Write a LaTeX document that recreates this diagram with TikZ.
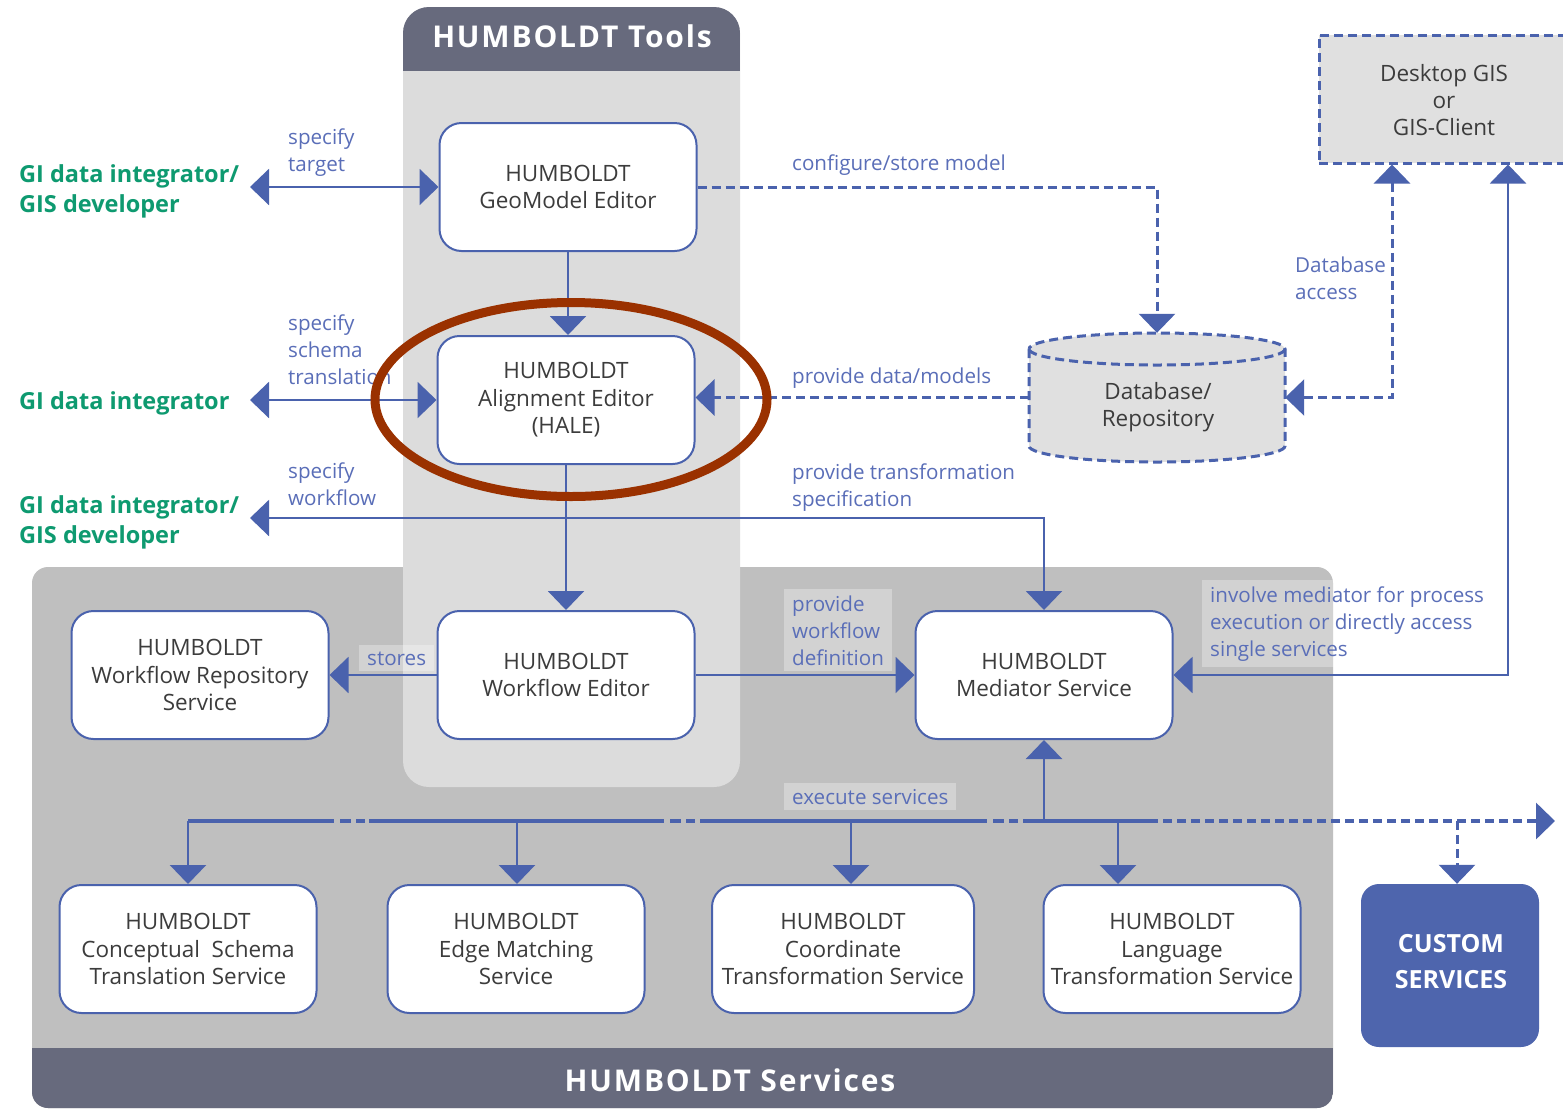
\documentclass[tikz,border=0pt]{standalone}
\usepackage{fontspec}
\setmainfont{Open Sans}
\usetikzlibrary{arrows.meta,calc}
\definecolor{lblue}{HTML}{4A62AD}
\definecolor{tblue}{HTML}{5A6EB8}
\definecolor{boxtext}{HTML}{3C3C3C}
\definecolor{hdr}{HTML}{676A7D}
\definecolor{toolsbg}{HTML}{DCDCDC}
\definecolor{servbg}{HTML}{BFBFBF}
\definecolor{gigreen}{HTML}{0E9A70}
\definecolor{ellred}{HTML}{9A3100}
\definecolor{custom}{HTML}{4E65AD}
\definecolor{dbfill}{HTML}{E0E0E0}
\begin{document}
\begin{tikzpicture}[x=1pt,y=-1pt,
  tri/.style={-{Triangle[length=19pt,width=36pt]}},
  tritri/.style={{Triangle[length=19pt,width=36pt]}-{Triangle[length=19pt,width=36pt]}},
  conn/.style={draw=lblue,line width=2.2pt},
  dconn/.style={draw=lblue,line width=3pt,dash pattern=on 9pt off 5pt},
  hbox/.style={draw=lblue,line width=2pt,fill=white,rounded corners=22pt,minimum width=257pt,minimum height=128pt,inner sep=0pt,align=center,text=boxtext,font=\fontsize{22.5}{27.5}\selectfont},
  lbl/.style={text=tblue,align=left,anchor=base west,inner sep=0pt,font=\fontsize{20.6}{27}\selectfont},
  plbl/.style={lbl,fill=white,fill opacity=0.3,text opacity=1,inner xsep=8pt,inner ysep=6pt},
  who/.style={text=gigreen,align=left,anchor=base west,inner sep=0pt,font=\bfseries\fontsize{23.5}{30}\selectfont},
  title/.style={text=white,font=\bfseries\fontsize{30}{36}\selectfont\addfontfeature{LetterSpace=6}},
]
\useasboundingbox (0,0) rectangle (1563,1109);
\clip (0,0) rectangle (1563,1109);
\fill[white] (0,0) rectangle (1563,1109);

% ---------- backgrounds ----------
\fill[servbg,rounded corners=16pt] (32,567) rectangle (1333,1108);
\begin{scope}
  \clip[rounded corners=16pt] (32,567) rectangle (1333,1108);
  \fill[hdr] (32,1048) rectangle (1333,1110);
\end{scope}
\fill[toolsbg,rounded corners=26pt] (403,7) rectangle (740,787);
\begin{scope}
  \clip[rounded corners=26pt] (403,7) rectangle (740,787);
  \fill[hdr] (403,7) rectangle (740,71);
\end{scope}
\node[title] (ttools) at (572,36) {HUMBOLDT Tools};
\node[title] (tserv) at (730,1080) {HUMBOLDT Services};

% ---------- nodes ----------
\node[hbox] (geo) at (568,187) {HUMBOLDT\\GeoModel Editor};
\node[hbox] (hale) at (566,400) {HUMBOLDT\\Alignment Editor\\(HALE)};
\node[hbox] (wfe) at (566,675) {HUMBOLDT\\Workflow Editor};
\node[hbox] (wfr) at (200,675) {HUMBOLDT\\Workflow Repository\\Service};
\node[hbox] (med) at (1044,675) {HUMBOLDT\\Mediator Service};
\node[hbox] (cst) at (188,949) {HUMBOLDT\\Conceptual~~Schema\\Translation Service};
\node[hbox] (edg) at (516,949) {HUMBOLDT\\Edge Matching\\Service};
\node[hbox,minimum width=262pt] (crd) at (843,949) {HUMBOLDT\\Coordinate\\Transformation Service};
\node[hbox] (lng) at (1172,949) {HUMBOLDT\\Language\\Transformation Service};
\node[fill=custom,rounded corners=18pt,minimum width=178pt,minimum height=163pt,inner sep=0pt,align=center,text=white,font=\bfseries\fontsize{25}{36}\selectfont] (cust) at (1450,965.5) {};
\node[align=center,text=white,font=\bfseries\fontsize{25}{36}\selectfont,inner sep=0pt] (custtxt) at (1451,962) {CUSTOM\\SERVICES};

% Desktop GIS
\node[draw=lblue,line width=3pt,dash pattern=on 9pt off 5pt,fill=dbfill,minimum width=256pt,minimum height=128pt,inner sep=0pt] (desk) at (1447,99) {};
\node[align=center,text=boxtext,font=\fontsize{22.5}{27}\selectfont,inner sep=0pt] (desktxt) at (1444,100) {Desktop GIS\\or\\GIS-Client};

% Database cylinder
\fill[dbfill] (1029,349) -- (1029,446) arc[start angle=180,end angle=360,x radius=128pt,y radius=16pt] -- (1285,349) arc[start angle=0,end angle=180,x radius=128pt,y radius=16pt] -- cycle;
\draw[dconn] (1029,349) -- (1029,446) arc[start angle=180,end angle=360,x radius=128pt,y radius=16pt] -- (1285,349) arc[start angle=0,end angle=180,x radius=128pt,y radius=16pt];
\draw[dconn] (1285,349) arc[start angle=0,end angle=-180,x radius=128pt,y radius=16pt];
\node[minimum width=256pt,minimum height=129pt,inner sep=0pt] (db) at (1157,397.5) {};
\node[align=center,text=boxtext,font=\fontsize{22.5}{27}\selectfont,inner sep=0pt] (dbtxt) at (1158,407) {Database/\\Repository};

% ---------- actors ----------
\node[who] (who1) at (19,212) {GI data integrator/\\GIS developer};
\node[who] (who2) at (19,409) {GI data integrator};
\node[who] (who3) at (19,543) {GI data integrator/\\GIS developer};
\coordinate (w1) at (250,187);
\coordinate (w2) at (250,400);
\coordinate (w3) at (250,518);
\coordinate (c1) at (1392,0);
\coordinate (c2) at (1508,0);

% ---------- connectors ----------
\draw[conn,tritri] (w1) -- (geo.west);
\draw[conn,tritri] (w2) -- (hale.west);
\draw[conn,tri] (geo.south) -- (geo.south |- hale.north);
\draw[dconn,tri] (geo.east) -| (db.north);
\draw[dconn,tri] (db.west) -- (db.west -| hale.east);
\draw[dconn,tritri] (desk.south -| c1) |- (db.east);
\draw[conn,tritri] (desk.south -| c2) |- (med.east);
\draw[conn,tri] (hale.south) -- (wfe.north);
\draw[conn,tritri] (w3) -| (med.north);
\draw[conn,tri] (wfe.west) -- (wfr.east);
\draw[conn,tri] (wfe.east) -- (med.west);

% bus
\coordinate (bus) at (0,821);
\coordinate (k1) at (188,821);
\coordinate (k2) at (517,821);
\coordinate (k3) at (851,821);
\coordinate (k4) at (1118,821);
\coordinate (k5) at (1457,821);
\coordinate (bend) at (1555,821);
\draw[lblue,line width=4pt] (k1) -- (334,821) (369,821) -- (664,821) (700,821) -- (987,821) (1023,821) -- (1149,821);
\draw[lblue,line width=4pt,dash pattern=on 0pt off 6pt on 11pt off 5pt on 9pt off 4pt] (334,821) -- (369,821);
\draw[lblue,line width=4pt,dash pattern=on 0pt off 6pt on 11pt off 5pt on 9pt off 4pt] (664,821) -- (700,821);
\draw[lblue,line width=4pt,dash pattern=on 0pt off 6pt on 11pt off 5pt on 9pt off 4pt] (987,821) -- (1023,821);
\draw[dconn,line width=3.5pt,tri] (1149,821) -- (bend);
\draw[conn,line width=2.5pt,tri] (med.south |- bus) -- (med.south);
\draw[conn,line width=2.5pt,tri] (k1 |- bus) -- (k1 |- cst.north);
\draw[conn,line width=2.5pt,tri] (k2) -- (k2 |- edg.north);
\draw[conn,line width=2.5pt,tri] (k3) -- (k3 |- crd.north);
\draw[conn,line width=2.5pt,tri] (k4) -- (k4 |- lng.north);
\draw[dconn,tri] (k5) -- (k5 |- cust.north);

% ---------- labels ----------
\node[lbl] (l1) at (288,171) {specify\\target};
\node[lbl] (l2) at (288,384) {specify\\schema\\translation};
\node[lbl] (l3) at (288,505) {specify\\workflow};
\node[lbl] (l4) at (792,170) {configure/store model};
\node[lbl] (l5) at (792,383) {provide data/models};
\node[lbl] (l6) at (792,506) {provide transformation\\specification};
\node[lbl] (l7) at (1295,299) {Database\\access};
\node[plbl] (l8) at (784,665) {provide\\workflow\\definition};
\node[plbl] (l9) at (359,665) {stores};
\node[plbl] (l10) at (1202,656) {involve mediator for process\\execution or directly access\\single services};
\node[plbl] (l11) at (784,804) {execute services};

% ---------- highlight ellipse ----------
\draw[ellred,line width=9pt] (571,399.5) ellipse [x radius=196pt,y radius=97pt];
\end{tikzpicture}
\end{document}
